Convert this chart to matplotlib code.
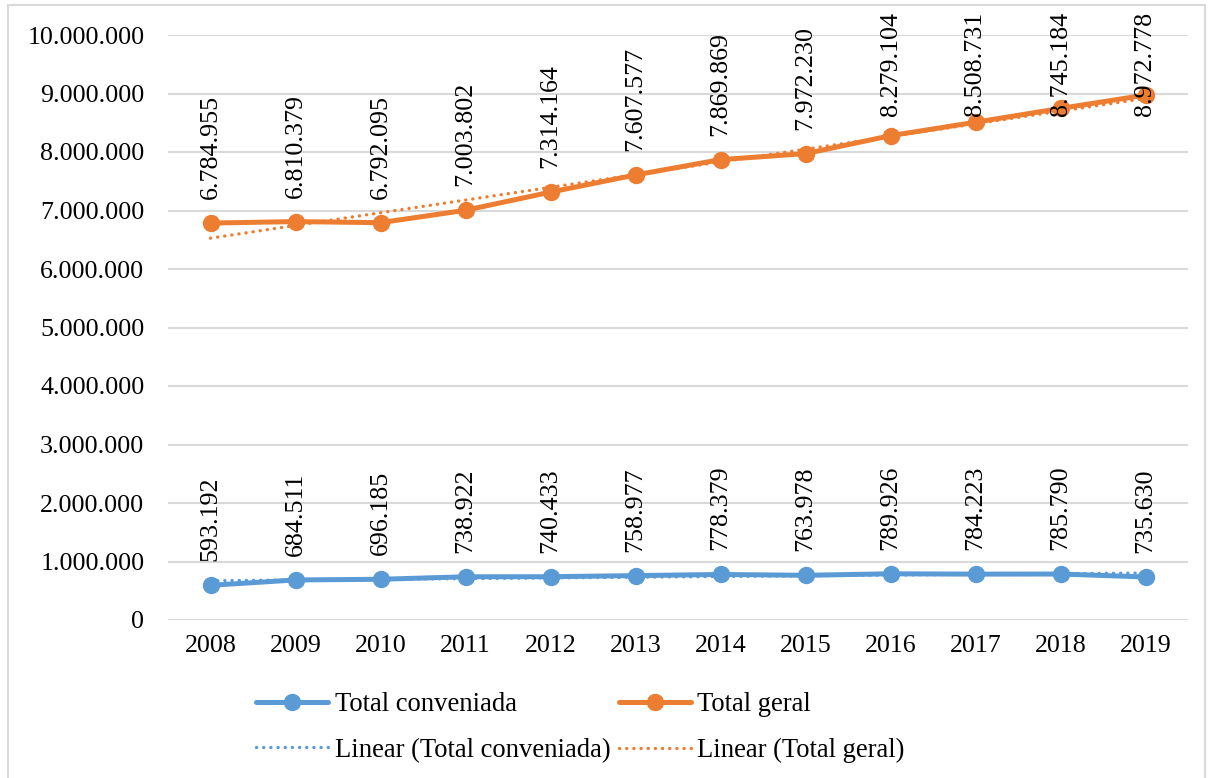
import numpy as np
import matplotlib.pyplot as plt
from matplotlib.patches import Rectangle
from matplotlib.ticker import FuncFormatter

plt.rcParams['font.family'] = ['Liberation Serif', 'DejaVu Serif']

anos = [2008, 2009, 2010, 2011, 2012, 2013, 2014, 2015, 2016, 2017, 2018, 2019]
total_conveniada = [593192, 684511, 696185, 738922, 740433, 758977,
                    778379, 763978, 789926, 784223, 785790, 735630]
total_geral = [6784955, 6810379, 6792095, 7003802, 7314164, 7607577,
               7869869, 7972230, 8279104, 8508731, 8745184, 8972778]

AZUL = '#5B9BD5'
LARANJA = '#ED7D31'
GRADE = '#D9D9D9'
FS = 18.7


def pontos(v, pos=None):
    return f'{int(round(v)):,}'.replace(',', '.')


fig = plt.figure(figsize=(12.14, 7.78), dpi=100)
ax = fig.add_axes([168 / 1214, 1 - 620 / 778, 1020 / 1214, 585 / 778])

# moldura do gráfico
fig.patches.append(Rectangle((8 / 1214, -0.05), 1197 / 1214, 1 - 5 / 778 + 0.05,
                             transform=fig.transFigure, fill=False,
                             edgecolor=GRADE, linewidth=1.5))

x = np.arange(len(anos))
series = [(total_conveniada, AZUL, 'Total conveniada'),
          (total_geral, LARANJA, 'Total geral')]

handles = {}
rotulos = []
for vals, cor, nome in series:
    h, = ax.plot(x, vals, color=cor, lw=3.6, marker='o', ms=11.5,
                 solid_capstyle='round', zorder=3, label=nome)
    a, b = np.polyfit(x, vals, 1)
    t, = ax.plot(x, a * x + b, color=cor, lw=2.4, linestyle=(0, (0.05, 2.1)),
                 dash_capstyle='round', zorder=4, label=f'Linear ({nome})')
    handles[nome] = (h, t)
    for xi, v in zip(x, vals):
        rotulos.append(ax.annotate(pontos(v), (xi, v), xytext=(0, 24),
                                   textcoords='offset pixels', rotation=90,
                                   ha='center', va='bottom', fontsize=FS,
                                   zorder=5))

ax.set_xlim(-0.5, len(anos) - 0.5)
ax.set_ylim(0, 10_000_000)
ax.set_yticks(np.arange(0, 10_000_001, 1_000_000))
ax.yaxis.set_major_formatter(FuncFormatter(pontos))
ax.set_xticks(x)
ax.set_xticklabels([str(a) for a in anos])
ax.tick_params(length=0, labelsize=FS)
ax.tick_params(axis='y', pad=17)
ax.tick_params(axis='x', pad=11)
ax.grid(axis='y', color=GRADE, lw=1.5)
ax.set_axisbelow(True)
for s in ax.spines.values():
    s.set_visible(False)

ordem = [handles['Total conveniada'][0], handles['Total conveniada'][1],
         handles['Total geral'][0], handles['Total geral'][1]]
fig.legend(handles=ordem, labels=[h.get_label() for h in ordem], ncol=2,
           loc='upper left', bbox_to_anchor=(256 / 1214, 1 - 692 / 778),
           frameon=False, fontsize=19.2, handlelength=2.7, handletextpad=0.25,
           columnspacing=0.32, labelspacing=0.78, borderpad=0, borderaxespad=0)

# rótulos que passam do topo são empurrados para dentro
fig.canvas.draw()
r = fig.canvas.get_renderer()
limite = 778 - 12
for t in rotulos:
    bb = t.get_window_extent(r)
    if bb.y1 > limite:
        dx, dy = t.xyann
        t.xyann = (dx, dy - (bb.y1 - limite))

fig.savefig('out.png', dpi=100)
